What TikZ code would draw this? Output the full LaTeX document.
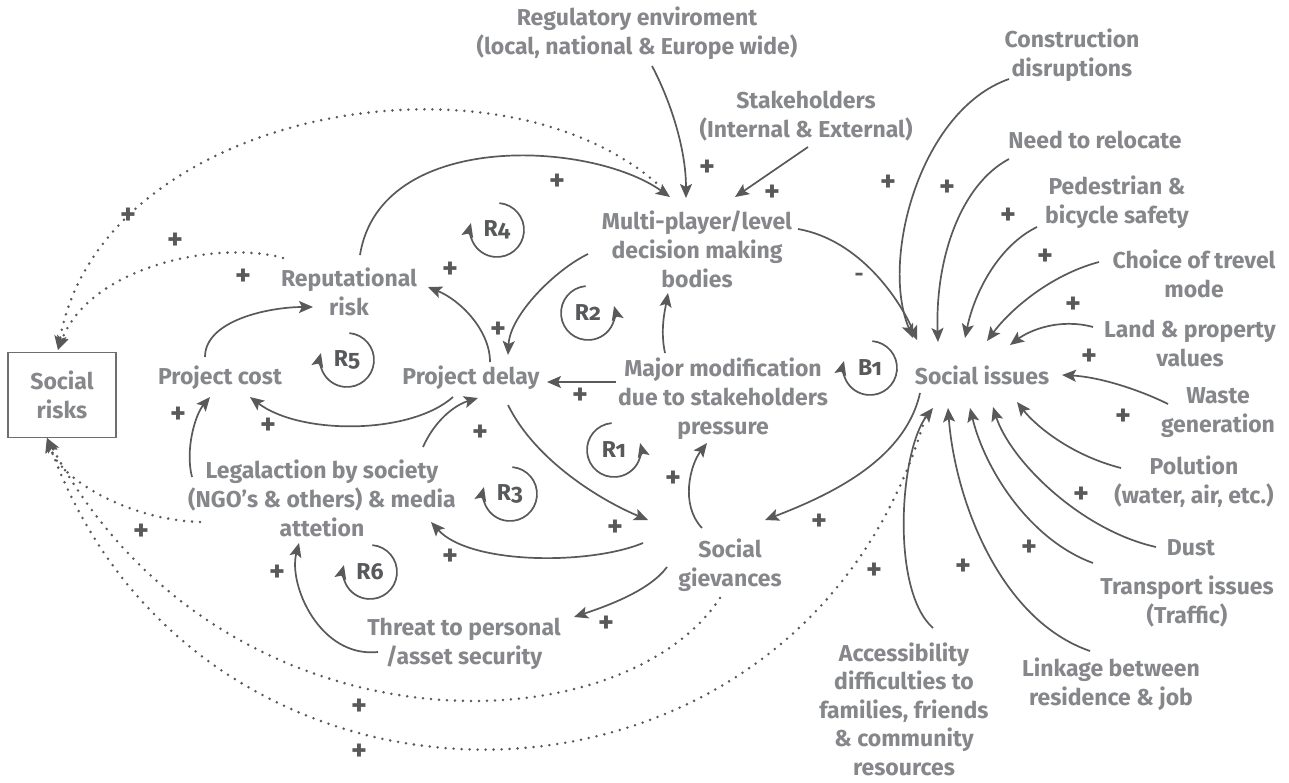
\documentclass[tikz,border=0pt]{standalone}
\usepackage{fontspec}
\setmainfont{Fira Sans}[Numbers=OldStyle]
\usetikzlibrary{arrows.meta}
\definecolor{txt}{HTML}{86878A}
\definecolor{ln}{HTML}{58595B}
\definecolor{boxc}{HTML}{6D6E71}
\begin{document}
\begin{tikzpicture}[x=1pt,y=-1pt,
  lbl/.style={font=\fontsize{23}{29}\selectfont\bfseries, text=txt, align=center, inner sep=0pt},
  arr/.style={draw=ln, line width=1.7pt, -{Stealth[length=14pt,width=12pt,inset=3pt]}},
  dotl/.style={draw=ln, line width=2.8pt, line cap=round, dash pattern=on 0pt off 8pt, -{Stealth[length=14pt,width=12pt,inset=3pt,line cap=butt]}},
  pl/.style={font=\fontsize{30}{30}\selectfont\bfseries, text=ln, inner sep=0pt},
  ml/.style={font=\fontsize{22}{22}\selectfont\bfseries, text=ln, inner sep=0pt},
  loopl/.style={font=\fontsize{23}{23}\selectfont\bfseries, text=ln, inner sep=0pt},
]
\useasboundingbox[fill=white] (0,0) rectangle (1289,782);

% ---------- nodes ----------
\node[lbl] (reg) at (637,33) {Regulatory enviroment\\(local, national \& Europe wide)};
\node[lbl] (stake) at (806,116) {Stakeholders\\(Internal \& External)};
\node[lbl] (multi) at (697,249) {Multi-player/level\\decision making\\bodies};
\node[lbl] (rep) at (349,292) {Reputational\\risk};
\node[lbl] (cost) at (220,378) {Project cost};
\node[lbl] (delay) at (471,378) {Project delay};
\node[lbl] (major) at (723,399) {Major modification\\due to stakeholders\\pressure};
\node[lbl, draw=boxc, line width=1.3pt, minimum width=108pt, minimum height=85pt] (srisk) at (62,395) {Social\\risks};
\node[lbl] (legal) at (322,498) {Legalaction by society\\(NGO’s \& others) \& media\\attetion};
\node[lbl] (griev) at (730,565) {Social\\gievances};
\node[lbl] (threat) at (464,644) {Threat to personal\\/asset security};
\node[lbl] (issues) at (982,375) {Social issues};
\node[lbl] (constr) at (1072,55) {Construction\\disruptions};
\node[lbl] (reloc) at (1095,140) {Need to relocate};
\node[lbl] (ped) at (1117,202) {Pedestrian \&\\bicycle safety};
\node[lbl] (choice) at (1194,274) {Choice of trevel\\mode};
\node[lbl] (land) at (1190,343) {Land \& property\\values};
\node[lbl] (waste) at (1218,413) {Waste\\generation};
\node[lbl] (pol) at (1194,482) {Polution\\(water, air, etc.)};
\node[lbl] (dust) at (1191,548) {Dust};
\node[lbl] (transp) at (1187,601) {Transport issues\\(Traffic)};
\node[lbl] (link) at (1111,684) {Linkage between\\residence \& job};
\node[lbl, font=\fontsize{23}{28.5}\selectfont\bfseries] (access) at (904,709) {Accessibility\\difficulties to\\families, friends\\\& community\\resources};

% ---------- loop labels ----------
\node[loopl] (B1) at (870,368) {B1};
\node[loopl] (R1) at (614,450) {R1};
\node[loopl] (R2) at (588,313) {R2};
\node[loopl] (R3) at (510,494) {R3};
\node[loopl] (R4) at (497,230) {R4};
\node[loopl] (R5) at (347,360) {R5};
\node[loopl] (R6) at (370,572) {R6};
% clockwise (on screen) loops, arrow at left pointing up
\foreach \n in {B1,R3,R4,R5,R6}
  \draw[arr] ([shift={(-85:27)}]\n.center) arc[start angle=-85,end angle=195,radius=27];
% counter-clockwise loops, arrow at right pointing up
\foreach \n in {R1,R2}
  \draw[arr] ([shift={(-95:27)}]\n.center) arc[start angle=-95,end angle=-375,radius=27];

% ---------- solid connectors ----------
\draw[arr] ([shift={(15,33)}]reg.center) .. controls +(18,34) and +(0,-50) .. ([shift={(-11,-51)}]multi.center);
\draw[arr] ([shift={(2,31)}]stake.center) -- ([shift={(38,-52)}]multi.center);
\draw[arr] ([shift={(11,-37)}]rep.center) .. controls +(20,-125) and +(-80,-57) .. ([shift={(-27,-52)}]multi.center);
\draw[arr] ([shift={(101,-20)}]multi.center) .. controls +(62,11) and +(-17,-40) .. ([shift={(-65,-35)}]issues.center);
\draw[arr] ([shift={(-109,5)}]multi.center) .. controls +(-33,16) and +(2,-40) .. ([shift={(37,-23)}]delay.center);
\draw[arr] ([shift={(19,-16)}]delay.center) .. controls +(0,-32) and +(32,13) .. ([shift={(79,-5)}]rep.center);
\draw[arr] ([shift={(-15,-21)}]cost.center) .. controls +(0,-37) and +(-43,0) .. ([shift={(-36,15)}]rep.center);
\draw[arr] ([shift={(-18,19)}]delay.center) .. controls +(-43,38) and +(50,38) .. ([shift={(30,19)}]cost.center);
\draw[arr] ([shift={(-130,-21)}]legal.center) .. controls +(-7,-27) and +(-15,18) .. ([shift={(-10,19)}]cost.center);
\draw[arr] ([shift={(101,-51)}]legal.center) .. controls +(12,-27) and +(-23,7) .. ([shift={(7,20)}]delay.center);
\draw[arr] ([shift={(-107,-17)}]major.center) -- ([shift={(76,4)}]delay.center);
\draw[arr] ([shift={(-58,-46)}]major.center) .. controls +(-5,-23) and +(-3,17) .. ([shift={(-29,44)}]multi.center);
\draw[arr] ([shift={(37,27)}]delay.center) .. controls +(27,55) and +(-48,-20) .. ([shift={(-82,-45)}]griev.center);
\draw[arr] ([shift={(-87,-22)}]griev.center) .. controls +(-53,22) and +(39,43) .. ([shift={(109,24)}]legal.center);
\draw[arr] ([shift={(-28,-37)}]griev.center) .. controls +(-22,-23) and +(-17,22) .. ([shift={(-16,44)}]major.center);
\draw[arr] ([shift={(-63,2)}]griev.center) .. controls +(-17,23) and +(36,-12) .. ([shift={(110,-27)}]threat.center);
\draw[arr] ([shift={(-86,8)}]threat.center) .. controls +(-58,6) and +(-11,42) .. ([shift={(-23,45)}]legal.center);
\draw[arr] ([shift={(-62,18)}]issues.center) .. controls +(-15,67) and +(65,-25) .. ([shift={(35,-45)}]griev.center);

% inputs to social issues
\draw[arr] ([shift={(-63,24)}]constr.center) .. controls +(-89,31) and +(-33,-78) .. ([shift={(-69,-37)}]issues.center);
\draw[arr] ([shift={(-86,19)}]reloc.center) .. controls +(-49,26) and +(-3,-82) .. ([shift={(-44,-33)}]issues.center);
\draw[arr] ([shift={(-80,25)}]ped.center) .. controls +(-37,18) and +(10,-48) .. ([shift={(-17,-37)}]issues.center);
\draw[arr] ([shift={(-95,-12)}]choice.center) .. controls +(-49,13) and +(23,-31) .. ([shift={(5,-34)}]issues.center);
\draw[arr] ([shift={(-97,-16)}]land.center) .. controls +(-33,-9) and +(20,-15) .. ([shift={(28,-30)}]issues.center);
\draw[arr] ([shift={(-50,-9)}]waste.center) .. controls +(-28,-14) and +(38,2) .. ([shift={(80,0)}]issues.center);
\draw[arr] ([shift={(-73,-14)}]pol.center) .. controls +(-51,-13) and +(18,23) .. ([shift={(35,27)}]issues.center);
\draw[arr] ([shift={(-35,-1)}]dust.center) .. controls +(-76,-17) and +(17,53) .. ([shift={(11,32)}]issues.center);
\draw[arr] ([shift={(-94,-38)}]transp.center) .. controls +(-63,-23) and +(15,62) .. ([shift={(-12,33)}]issues.center);
\draw[arr] ([shift={(-21,-33)}]link.center) .. controls +(-90,-31) and +(7,92) .. ([shift={(-34,33)}]issues.center);
\draw[arr] ([shift={(29,-81)}]access.center) .. controls +(-43,-38) and +(-33,42) .. ([shift={(-49,33)}]issues.center);

% ---------- dotted connectors ----------
\draw[dotl] ([shift={(-35,-61)}]multi.center) .. controls +(-162,-150) and +(42,-240) .. ([shift={(-4,-45)}]srisk.center);
\draw[dotl] ([shift={(-66,-34)}]rep.center) .. controls +(-63,-18) and +(32,-85) .. ([shift={(-4,-45)}]srisk.center);
\draw[dotl] ([shift={(-122,24)}]legal.center) .. controls +(-70,-2) and +(13,42) .. ([shift={(-15,43)}]srisk.center);
\draw[dotl] ([shift={(-10,33)}]griev.center) .. controls +(-100,152) and +(173,322) .. ([shift={(-15,43)}]srisk.center);
\draw[dotl] ([shift={(-57,43)}]issues.center) .. controls +(-125,432) and +(153,422) .. ([shift={(-15,43)}]srisk.center);

% ---------- polarity signs ----------
\foreach \x/\y [count=\i] in {707/168, 772/193, 557/182, 128/216, 175/241, 243/277, 498/330, 450/270,
  268/426, 178/415, 480/433, 580/396, 615/528, 450/557, 673/479, 606/624, 277/573, 819/522,
  141/532, 359/707, 359/752, 888/183, 947/188, 1008/216, 1045/257, 1073/305, 1089/357, 1123/417,
  1081/495, 1029/548, 963/567, 874/571}
  \node[pl] (p\i) at (\x,\y) {+};
\node[ml] (m1) at (859,277) {-};
\end{tikzpicture}
\end{document}
